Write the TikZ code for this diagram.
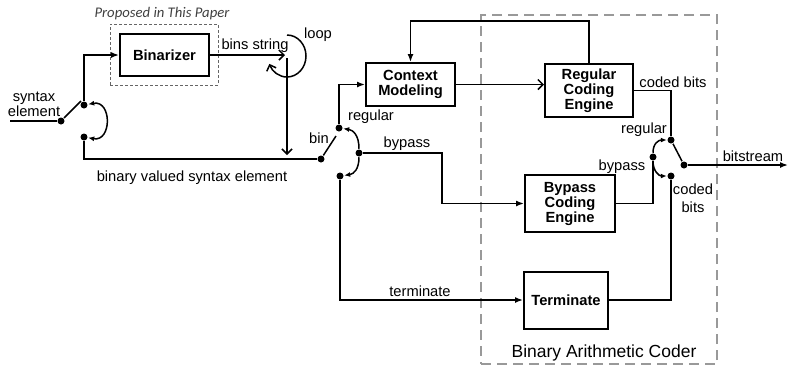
\documentclass[tikz,border=0pt]{standalone}
\usepackage{fontspec}
\setmainfont{Liberation Sans}
\newfontfamily\notefont{Carlito}
\usetikzlibrary{arrows.meta}

\begin{document}
\begin{tikzpicture}[
    x=1pt, y=-1pt,
    line width=1.5pt,
    box/.style={rectangle, draw=black, line width=2pt, align=center, inner sep=0pt, font=\fontsize{14.7}{15}\selectfont\bfseries},
    lbl/.style={inner sep=0pt, align=center, font=\fontsize{14.7}{15}\selectfont},
    dot/.style={circle, fill=black, inner sep=0pt, minimum size=7pt},
    arrow/.style={-{Latex[length=8pt, width=6pt]}},
    oarrow/.style={-{Straight Barb[length=5pt, width=10pt]}},
    sarrow/.style={-{Latex[length=6pt, width=5pt]}},
    dsarrow/.style={{Latex[length=6pt, width=5pt]}-{Latex[length=6pt, width=5pt]}},
    propbox/.style={draw=black!60, line width=0.8pt, dash pattern=on 3pt off 2pt, inner sep=0pt},
    bacbox/.style={draw=black!40, line width=2.5pt, dash pattern=on 10pt off 6pt, inner sep=0pt}
]
\useasboundingbox (0,0) rectangle (788,368);

% frames
\node[bacbox, minimum width=236pt, minimum height=349pt] (bac) at (599,189.5) {};
\node[propbox, minimum width=108pt, minimum height=61pt] (prop) at (164,54.5) {};

% blocks
\node[box, minimum width=89pt, minimum height=42pt] (binz) at (164.5,55) {Binarizer};
\node[box, minimum width=89pt, minimum height=43pt] (ctx) at (410.5,84.5) {Context\\Modeling};
\node[box, minimum width=88pt, minimum height=53pt] (reg) at (589,90.5) {Regular\\Coding\\Engine};
\node[box, minimum width=90pt, minimum height=57pt] (byp) at (570,203.5) {Bypass\\Coding\\Engine};
\node[box, minimum width=84pt, minimum height=57pt] (term) at (566,300) {Terminate};

% switch contacts
\node[dot] (se_in) at (61,121) {};
\node[dot] (se_up) at (84,105) {};
\node[dot] (se_dn) at (84,137) {};
\node[dot] (bn_in) at (321,159) {};
\node[dot] (bn_up) at (339,128) {};
\node[dot] (bn_mid) at (359,153) {};
\node[dot] (bn_dn) at (340,176) {};
\node[dot] (out_up) at (671,140) {};
\node[dot] (out_dn) at (671,176) {};
\node[dot] (out_pv) at (653,157) {};
\node[dot] (out_o) at (684,165) {};

\coordinate (se_src) at (10,121);
\coordinate (se_tip) at (81,101);
\coordinate (bn_tip) at (336,136);
\coordinate (bypk) at (442,153);
\coordinate (loopstart) at (287,35);
\coordinate (looptail) at (287,58);
\coordinate (bits_out) at (788,165);

% labels
\node[lbl, font=\fontsize{14.7}{15}\selectfont\notefont\itshape, text=black!75] (prop_lbl) at (162,14) {Proposed in This Paper};
\node[lbl] (se_lbl) at (34,104) {syntax\\element};
\node[lbl] (bvse_lbl) at (192,178) {binary valued syntax element};
\node[lbl] (bins_lbl) at (255,46) {bins string};
\node[lbl] (loop_lbl) at (318,35) {loop};
\node[lbl] (bin_lbl) at (319,138) {bin};
\node[lbl] (reg_lbl) at (371,117) {regular};
\node[lbl] (byp_lbl) at (407,144) {bypass};
\node[lbl] (term_lbl) at (420,291) {terminate};
\node[lbl] (cb_lbl) at (673,82) {coded bits};
\node[lbl] (oreg_lbl) at (644,130) {regular};
\node[lbl] (obyp_lbl) at (622,167) {bypass};
\node[lbl, font=\fontsize{14.7}{18}\selectfont] (cb2_lbl) at (693,198) {coded\\bits};
\node[lbl] (bits_lbl) at (753,156) {bitstream};
\node[lbl, font=\fontsize{17.5}{18}\selectfont] (bac_lbl) at (604,353) {Binary Arithmetic Coder};

% syntax element switch
\draw (se_src) -- (se_in);
\draw (se_in) -- (se_tip);
\draw[dsarrow] (se_up) .. controls +(28,-5) and +(28,5) .. (se_dn);
\draw[arrow] (se_up) |- (binz.west);
\draw (se_dn) |- (bn_in);

% binarizer output and loop
\draw[oarrow] (binz.east) -- ++(75,0);
\draw[oarrow] (loopstart) arc[start angle=-90, end angle=158, x radius=19, y radius=21];
\draw[oarrow, shorten >=4pt] (looptail) -- (looptail |- bn_in);

% bin switch
\draw (bn_in) -- (bn_tip);
\draw[sarrow] (bn_mid) .. controls +(0,-18) and +(14,2) .. (bn_up);
\draw[sarrow] (bn_mid) .. controls +(0,16) and +(14,-2) .. (bn_dn);
\draw[arrow] (bn_up) |- (ctx.west);
\draw[arrow] (bn_mid) -- (bypk) |- (byp.west);
\draw[arrow] (bn_dn) |- (term.west);

% context modeling and regular engine
\draw[oarrow] (ctx.east) -- (ctx.east -| reg.west);
\draw[arrow] (reg.north) -- ++(0,-42) -| (ctx.north);

% output switch
\draw (reg.east) -| (out_up);
\draw (byp.east) -| (out_pv);
\draw (term.east) -| (out_dn);
\draw[sarrow] (out_pv) .. controls +(0,-14) and +(-12,0) .. (out_up);
\draw[sarrow] (out_pv) .. controls +(0,14) and +(-12,0) .. (out_dn);
\draw (out_o) -- (out_up);
\draw[arrow] (out_o) -- (bits_out);
\end{tikzpicture}
\end{document}
